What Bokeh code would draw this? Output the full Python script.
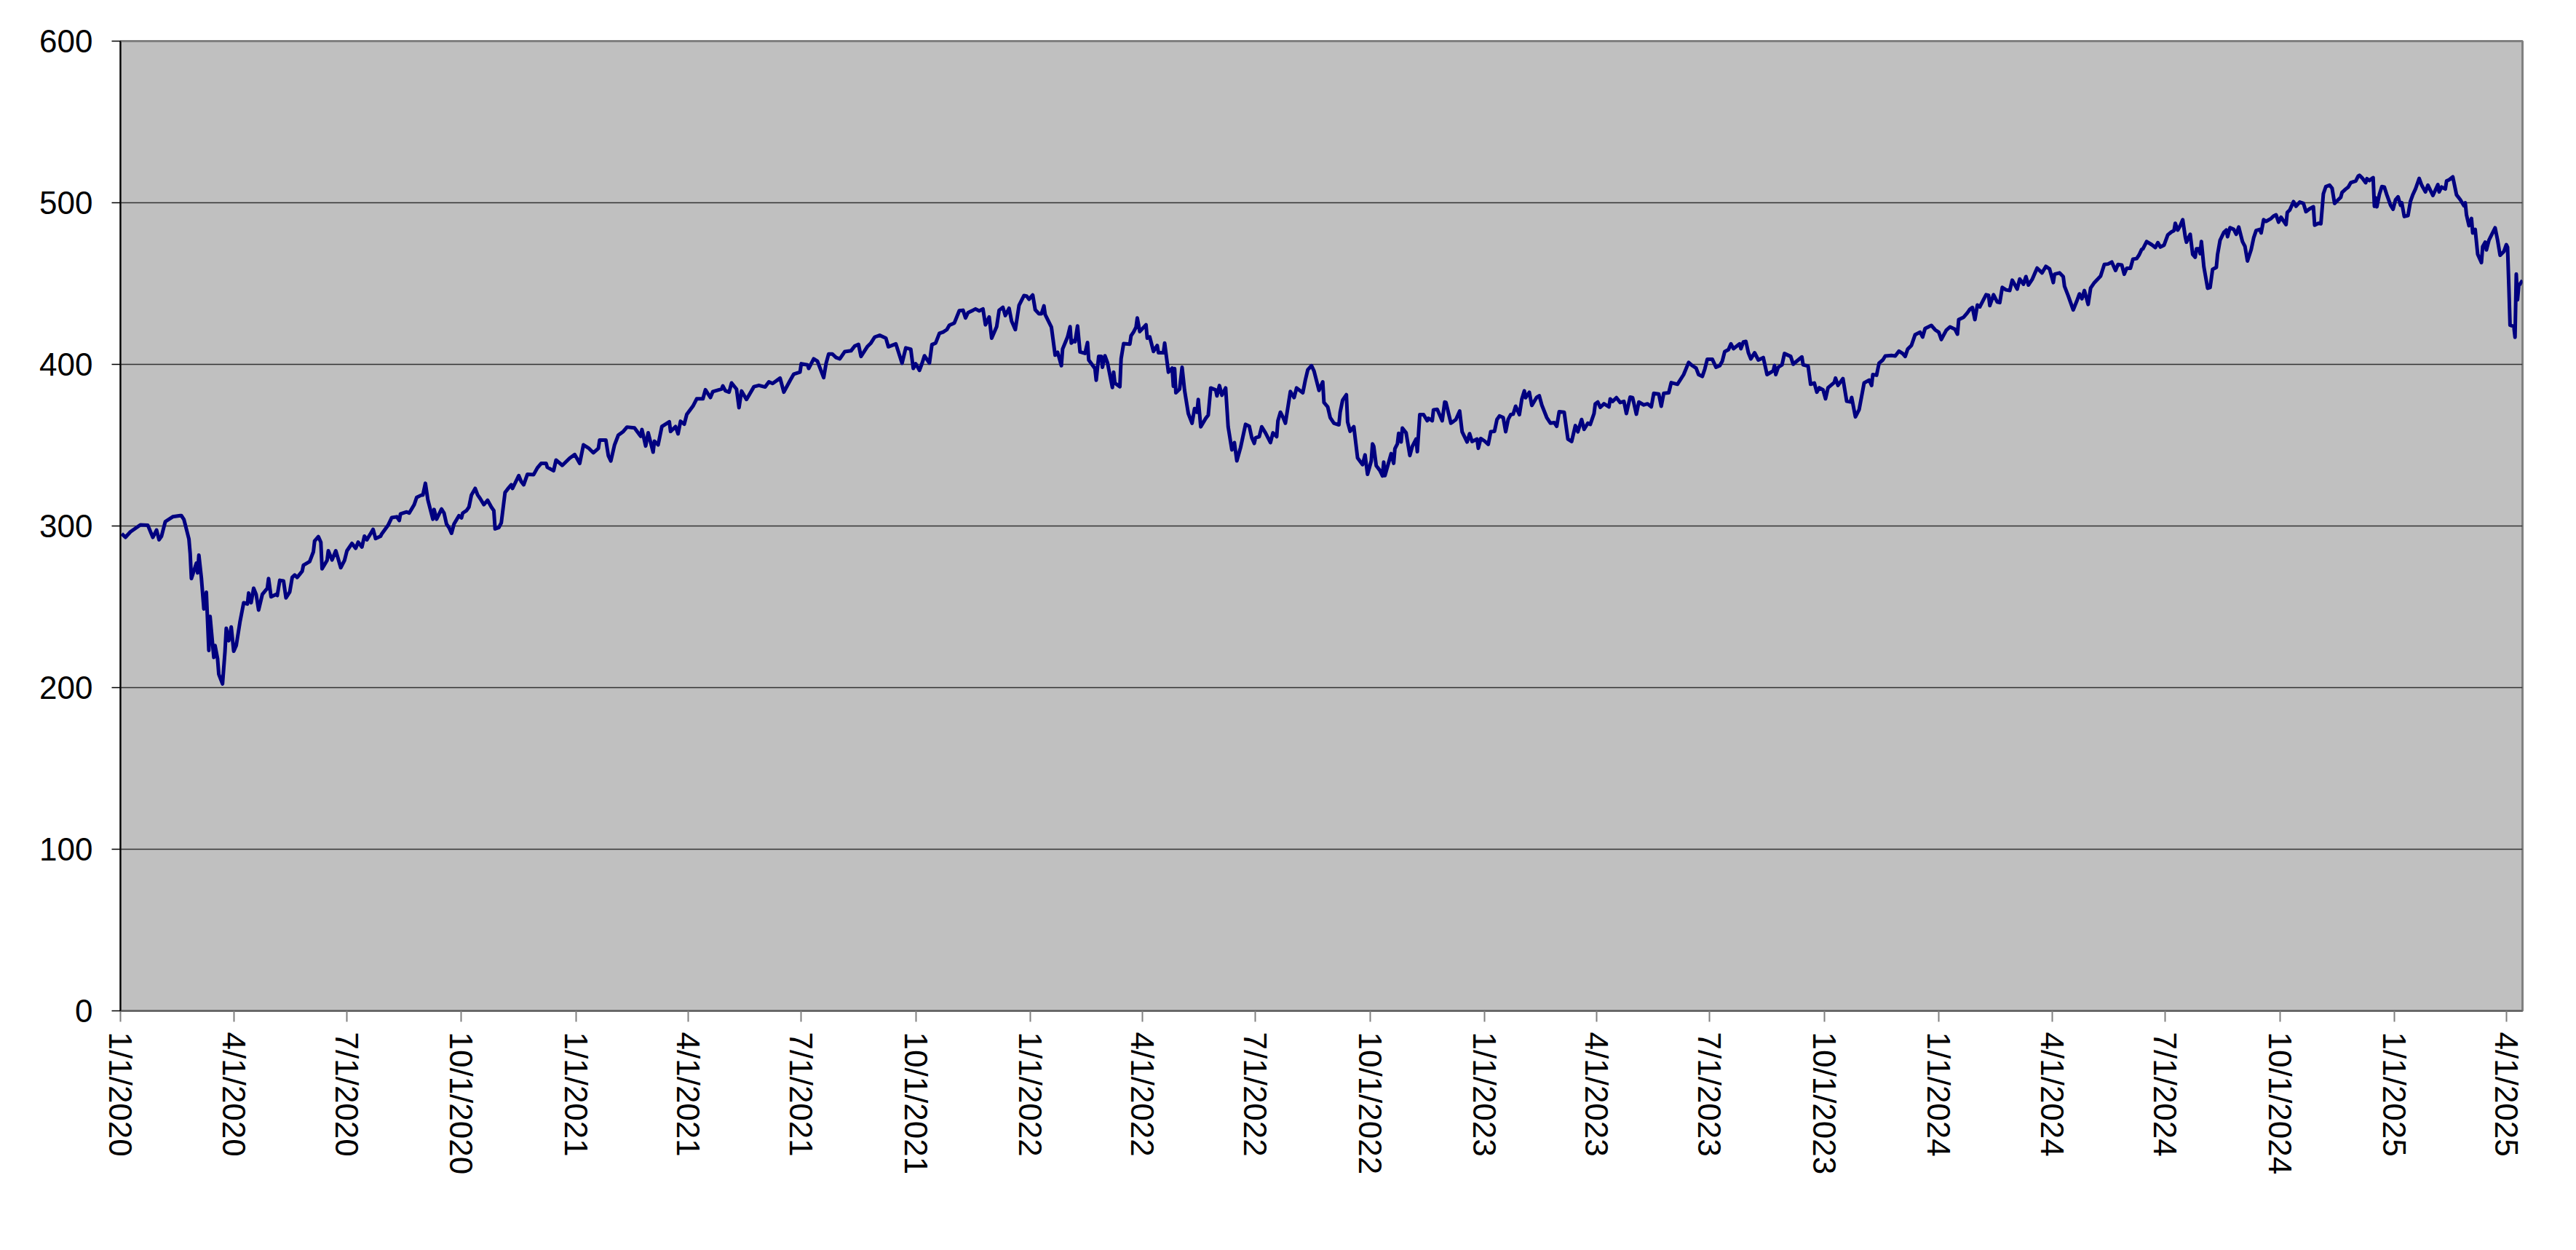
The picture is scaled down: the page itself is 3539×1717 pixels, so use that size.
import pandas as pd
from bokeh.plotting import figure
from bokeh.models import FixedTicker, CustomJSTickFormatter, Range1d
from bokeh.embed import file_html
from bokeh.resources import INLINE

# ---------------- data (day offsets from start_date, closing values) ----------------
start_date = "2020-01-01"
end_date = "2025-04-14"

days_a = [1, 4, 8, 16, 22, 26, 29, 31, 33, 36, 42, 48, 49, 51, 55, 56, 57, 61, 62, 63,
          65, 67, 69, 71, 72, 75, 76, 78, 79, 82, 84, 85, 87, 89, 91, 93, 96, 99, 102, 103,
          105, 107, 109, 111, 114, 118, 119, 121, 125, 126, 128, 131, 133, 136, 138, 140, 142, 146, 147, 152,
          155, 156, 159, 161, 162, 166, 167, 170, 173, 175, 177, 180, 182, 186, 189, 191, 194, 196, 198, 203,
          205, 209, 210, 215, 218, 222, 224, 225, 230, 232, 236, 238, 242, 243, 245, 247, 251, 252, 254, 258,
          260, 262, 264, 266, 268, 272, 274, 275, 278, 280, 282, 285, 287, 289, 292, 295, 298, 300, 301, 304,
          306, 309, 312, 314, 315, 320, 322, 324, 327]
vals_a = [295.2, 293, 296.4, 300.7, 300.4, 293, 297.5, 291.5, 293.7, 302.7, 305.7, 306.4, 306.4, 304, 292, 283, 267.5, 277, 271, 282,
          268, 248.7, 259, 223, 244, 218.7, 226, 218, 208.3, 202.3, 222.5, 236.7, 229, 237.5, 222.5, 226, 240.5, 252.5, 251.7, 258.5,
          252.5, 261.5, 257.7, 248, 257.7, 261.5, 267.5, 256.2, 257.7, 257, 266.4, 266, 255.5, 259.2, 268.2, 269.7, 268.2, 272, 275.7, 278,
          284, 290.7, 293.4, 290, 273.5, 278.7, 284.7, 279, 284.7, 279.5, 274.2, 278.7, 284.7, 289.2, 286.2, 290, 287, 293.7, 291.5, 297.9,
          292.2, 293.7, 295.2, 300.4, 305.2, 305.7, 303.4, 307.5, 308.7, 308, 313.2, 317.7, 319.2, 319.2, 326.4, 316.2, 304.2, 310.2, 304.2, 310.5,
          308, 301.2, 299, 295.5, 301.2, 306.4, 305, 308, 309.5, 311.7, 319.2, 323.2, 319.2, 317, 313.2, 315.9, 311.7, 309.5, 298.2, 299,
          302, 320.7, 323.7, 325.5, 323.2, 331.2, 327.5, 325.5, 332]

days_b = [332, 335, 338, 342, 343, 348, 350, 355, 361, 365, 369, 372, 376, 380, 384, 385, 390, 392, 394, 397,
          400, 404, 407, 413, 418, 419, 422, 424, 428, 429, 432, 435, 441, 442, 446, 448, 450, 453, 455, 460,
          463, 468, 470, 474, 476, 483, 484, 486, 489, 491, 495, 497, 499, 503, 509, 513, 518, 521, 524, 530,
          533, 538, 541, 546, 547, 552, 553, 557, 560, 565, 567, 569, 572, 575, 578, 582, 587, 590, 593, 595,
          600, 603, 606, 610, 615, 617, 623, 628, 631, 635, 637, 639, 642]
vals_b = [331.8, 336, 338.7, 338.7, 336.3, 334.2, 340.8, 337.5, 342, 344.2, 338.7, 350.2, 348.3, 345.3, 348, 353.2, 353.2, 343.5, 340.2, 350.2,
          356.2, 358.5, 361.2, 360.7, 355.5, 359.7, 349.5, 357.7, 345.7, 352.5, 350.2, 361.5, 364.5, 358.5, 361.5, 357, 364.8, 363, 369, 374.2,
          378.7, 378.7, 384.3, 379.5, 383.2, 384.7, 386.7, 383.7, 382.8, 388.5, 384.7, 373.2, 383.5, 378.3, 386.2, 387, 386, 389.2, 388.2, 391.5,
          382.8, 390, 394, 395.2, 400.4, 399.7, 397.5, 403.4, 402, 391.8, 400.7, 406.4, 406.4, 404.2, 403.4, 407.9, 408.4, 411.4, 412.4, 404.9,
          410.9, 413.2, 416.9, 418, 416.2, 410.9, 412.7, 400.7, 410.2, 409.4, 397.5, 400.4, 396.3]

days_c = [644, 646, 650, 652, 655, 658, 661, 664, 666, 670, 674, 677, 679, 681, 685, 687, 690, 693, 695, 698,
          700, 704, 706, 709, 711, 714, 716, 719, 722, 726, 728, 730, 733, 735, 738, 740, 742, 743, 748, 751,
          753, 756, 757, 761, 763, 764, 766, 767, 769, 771, 775, 777, 778, 783, 784, 786, 788, 789, 791, 793,
          797, 798, 799, 803, 804, 806, 811, 812, 814, 816, 817, 819, 824, 825, 827, 830, 833, 834, 838, 839,
          842, 845, 846, 847, 848, 851, 853, 855, 858, 861, 863, 865, 866, 868, 872, 874, 876, 880, 881, 883,
          885, 888, 890, 893, 895, 897, 900, 904, 907, 909, 911, 912, 915, 917, 920, 924, 926, 929, 930, 932,
          934, 936, 940, 943, 945, 950, 952, 954, 957, 959, 963]
vals_c = [400.5, 405.3, 400.8, 412.2, 413.2, 419.2, 420, 421.5, 424.2, 425.6, 433.2, 433.5, 428.7, 432, 433.5, 434.3, 433.1, 434.3, 424.5, 429.3,
          416.2, 423.3, 433.5, 435.3, 430.2, 434.7, 426.8, 421.5, 436.5, 442.6, 442.3, 440.3, 442.9, 433.8, 431.3, 431.3, 436.2, 430.8, 423, 405.7,
          407.5, 399.2, 409.5, 417, 423.3, 413.2, 414.7, 414, 423.8, 407.7, 406.8, 413.5, 402.7, 397.4, 390.2, 405, 405, 398.2, 405.3, 401.2,
          385.7, 395.2, 388.4, 386.2, 403.5, 412.8, 412.5, 417.7, 420, 423, 428.7, 420.3, 424.5, 416.2, 417, 408, 411.7, 407.2, 407.2, 413.2,
          395.2, 397.7, 386.5, 397.4, 382.4, 384.7, 398.2, 383.9, 369.6, 363.6, 372.6, 370.4, 378.3, 361.4, 366.6, 368.6, 385.4, 384.2, 380.5, 386.9,
          380.9, 385.4, 361.4, 347.1, 351.6, 340.3, 348.6, 362.9, 361.7, 354.6, 351.1, 354.6, 355.3, 361.4, 357.6, 351.6, 357.6, 355.3, 365.1, 370.4,
          367.4, 363.6, 383.2, 379.4, 385.4, 382.4, 390.2, 396.7, 399.2, 395.9, 383.9]

days_d = [966, 967, 970, 972, 975, 979, 980, 982, 985, 986, 988, 991, 994, 998, 1000, 1002, 1005, 1006, 1007, 1009,
          1012, 1014, 1015, 1016, 1021, 1023, 1024, 1026, 1027, 1029, 1030, 1033, 1036, 1038, 1041, 1042, 1044, 1047, 1050, 1051,
          1054, 1055, 1058, 1062, 1064, 1065, 1069, 1071, 1073, 1076, 1078, 1082, 1084, 1086, 1090, 1091, 1093, 1096, 1099, 1101,
          1104, 1106, 1108, 1111, 1113, 1115, 1117, 1119, 1121, 1124, 1126, 1128, 1129, 1132, 1134, 1138, 1140, 1142, 1146, 1149,
          1152, 1154, 1156, 1160, 1163, 1166, 1169, 1171, 1174, 1176, 1179, 1181, 1184, 1185, 1187, 1189, 1192, 1196, 1197, 1199,
          1202, 1205, 1208, 1210, 1213, 1215, 1218, 1220, 1224, 1227, 1230, 1232, 1236, 1238, 1240, 1244, 1246, 1251, 1256, 1260,
          1263, 1266, 1268, 1271, 1273, 1275, 1279, 1282, 1285]
vals_d = [389.2, 376.4, 373.7, 367.1, 363.6, 362.6, 370.4, 377.9, 381.2, 364.4, 358.6, 361.4, 342.1, 338, 344, 332, 340.3, 350.8, 349.3, 337.3,
          334.3, 331, 339.5, 331.2, 344.8, 338.8, 347.8, 350.8, 357.3, 352, 360.6, 357.6, 343.6, 349.3, 353.8, 346, 368.9, 368.9, 365.1, 366.6,
          365.1, 371.9, 372.2, 365.1, 376.7, 376.4, 363.6, 364.7, 365.9, 371.1, 358.3, 352, 357.1, 352.3, 353.8, 348.1, 354.1, 352.6, 350.5, 358.3,
          358.6, 365.9, 368.1, 367.1, 358.3, 365.9, 368.9, 369.2, 374.1, 368.9, 378.6, 383.6, 379.4, 382.7, 374.6, 379.7, 380.6, 374.9, 367.1, 363.6,
          364, 361.7, 370.7, 370.4, 353.8, 352.3, 362.1, 358.3, 365.9, 359.8, 363.6, 362.9, 369.6, 375.6, 376.7, 373.4, 375.6, 373.7, 378.6, 377.1,
          379.4, 376.4, 377.1, 369.6, 379.7, 379.4, 369.2, 376.7, 374.9, 375.6, 373.7, 382.1, 381.7, 374.1, 382.1, 382.4, 388.7, 387.7, 393.7, 401.2,
          399.2, 397.7, 393.7, 392.5, 397.1, 403.2, 403.2, 398.2, 399.2]

days_e = [1287, 1289, 1292, 1294, 1296, 1301, 1302, 1304, 1306, 1308, 1310, 1313, 1316, 1320, 1323, 1328, 1329, 1330, 1332, 1335,
          1337, 1342, 1344, 1348, 1351, 1352, 1356, 1358, 1361, 1363, 1365, 1368, 1370, 1372, 1377, 1378, 1380, 1384, 1387, 1390,
          1391, 1394, 1397, 1401, 1405, 1407, 1408, 1411, 1413, 1416, 1418, 1423, 1426, 1429, 1432, 1434, 1436, 1439, 1442, 1446,
          1448, 1450, 1455, 1458, 1461, 1463, 1467, 1470, 1474, 1476, 1477, 1481, 1484, 1486, 1488, 1490, 1492, 1494, 1497, 1499,
          1501, 1502, 1505, 1508, 1510, 1512, 1515, 1518, 1520, 1524, 1526, 1529, 1531, 1533, 1536, 1540, 1544, 1547, 1550, 1553,
          1554, 1558, 1561, 1562, 1565, 1569, 1572, 1574, 1576, 1578, 1581, 1583, 1586, 1591, 1594, 1597, 1600, 1603, 1605, 1608]
vals_e = [401.9, 407.9, 409.1, 412.7, 409.7, 412.7, 409.7, 413.9, 414.2, 407.2, 403.4, 407.2, 402.7, 404.2, 393.7, 396, 399.3, 393.7, 398.2, 399.7,
          406.7, 404.9, 400.1, 402.7, 404.6, 399.7, 398.9, 387.7, 388.5, 382.8, 385.5, 384.3, 378.7, 385.5, 388.8, 391.5, 387, 391.2, 377.2, 376.8,
          379.5, 367.5, 372, 388.5, 390.3, 387, 393.7, 393.3, 400.7, 402.7, 405.2, 405.5, 405.2, 408.2, 406.7, 404.9, 409.4, 411.7, 418.4, 419.9,
          416.9, 422.2, 424.1, 421.4, 419.9, 415.4, 421.1, 423.2, 421.7, 418.7, 427.7, 429.2, 431.9, 434.1, 435.2, 427.7, 436.7, 435.6, 440.1, 443.1,
          442.7, 436.4, 443.1, 438.6, 438.2, 447.6, 446.1, 445.7, 452.1, 446.6, 452.8, 449.6, 454.3, 449.1, 452.5, 459.6, 456.6, 460.6, 459.1, 450.6,
          455.8, 456.6, 454.3, 448.4, 442.4, 433.7, 439.4, 443.6, 440.6, 445.7, 437.1, 447.2, 450.6, 454.6, 461.8, 462.1, 463.3, 458.1, 461.8, 461.5]

days_f = [1610, 1612, 1615, 1617, 1620, 1622, 1624, 1625, 1628, 1632, 1635, 1637, 1639, 1642, 1645, 1648, 1650, 1651, 1653, 1655,
          1657, 1659, 1660, 1663, 1665, 1667, 1668, 1670, 1671, 1672, 1674, 1677, 1679, 1681, 1684, 1685, 1687, 1690, 1692, 1693,
          1695, 1698, 1700, 1702, 1705, 1707, 1709, 1712, 1714, 1716, 1719, 1720, 1722, 1724, 1728, 1730, 1732, 1734, 1736, 1740,
          1741, 1743, 1746, 1748, 1751, 1754, 1756, 1759, 1762, 1763, 1766, 1768, 1770, 1772, 1775, 1777, 1779, 1782, 1784, 1785,
          1788, 1790, 1792, 1796, 1798, 1799, 1801, 1804, 1805, 1807, 1810, 1811, 1812, 1813, 1815, 1817, 1819, 1821, 1824, 1826,
          1828, 1830, 1832, 1833, 1835, 1838, 1840, 1842, 1844, 1847, 1849, 1852, 1854, 1858, 1862, 1863, 1865, 1868, 1869, 1871,
          1874, 1877, 1880, 1883, 1884, 1885, 1887, 1889, 1890, 1892, 1894, 1897, 1898, 1900, 1901, 1903, 1905, 1908, 1910, 1912,
          1915, 1917, 1918, 1919, 1920, 1923, 1924, 1925, 1926, 1927, 1930]
vals_f = [455.8, 459.5, 459.5, 465.1, 465.5, 467.8, 471.1, 471.5, 476, 474.1, 472.3, 475.3, 472.6, 473.8, 480.1, 482, 482.8, 487.3, 483.1, 485.8,
          489.5, 479, 475.6, 480.5, 468.1, 466.3, 471.5, 471.5, 468.5, 476, 460.3, 447.1, 447.6, 458.8, 460, 468.1, 476.8, 481.6, 483.1, 479,
          484.6, 483.5, 480.5, 485, 476, 473, 464, 471.1, 478.3, 482.8, 483.5, 481.3, 489.5, 488.5, 490.3, 491.8, 492.5, 488, 491, 486.5,
          494, 495.5, 500.7, 497.8, 500.4, 499.6, 494.5, 496.3, 497.5, 486.1, 487.3, 487, 505.5, 510, 510.9, 509, 499.6, 501.9, 503.4, 506.4,
          508.5, 509.7, 512.4, 513.5, 516.5, 517, 515.5, 512.4, 514.9, 513.8, 515.5, 497.8, 503, 497.5, 505.2, 510, 509.7, 504.9, 498.5, 496,
          501.9, 503.7, 498.5, 500, 491.5, 492.1, 501, 505.2, 508.5, 515, 510.9, 506.7, 510.9, 504.5, 511.2, 506.7, 509.7, 508.5, 513.5, 514.2,
          516, 504.9, 501.9, 498.1, 500, 492.5, 485.8, 490.3, 481.3, 483.5, 468.1, 463, 472.9, 475.6, 470.8, 476.8, 479.9, 484.5, 476.8, 467.5,
          469.8, 474.1, 472.5, 449, 424.3, 423.5, 416.8, 455.8, 440, 448.6, 452]

tick_dates = ["2020-01-01", "2020-04-01", "2020-07-01", "2020-10-01",
              "2021-01-01", "2021-04-01", "2021-07-01", "2021-10-01",
              "2022-01-01", "2022-04-01", "2022-07-01", "2022-10-01",
              "2023-01-01", "2023-04-01", "2023-07-01", "2023-10-01",
              "2024-01-01", "2024-04-01", "2024-07-01", "2024-10-01",
              "2025-01-01", "2025-04-01"]
y_ticks = [0, 100, 200, 300, 400, 500, 600]

# ---------------- assemble ----------------
day_lists = [days_a, days_b, days_c, days_d, days_e, days_f]
val_lists = [vals_a, vals_b, vals_c, vals_d, vals_e, vals_f]
days, vals = [], []
for dl, vl in zip(day_lists, val_lists):
    n = min(len(dl), len(vl))
    days += dl[:n]
    vals += vl[:n]

base = pd.Timestamp(start_date)
dates = [base + pd.Timedelta(days=int(d)) for d in days]

FONT = "Liberation Sans"

p = figure(width=3520, height=1700, x_axis_type="datetime",
           x_range=Range1d(base, pd.Timestamp(end_date)),
           y_range=Range1d(0, 600),
           output_backend="svg", toolbar_location=None,
           min_border_left=165, min_border_right=55,
           min_border_top=56, min_border_bottom=312)

p.background_fill_color = "#C0C0C0"
p.border_fill_color = "white"
p.outline_line_color = "#808080"
p.outline_line_width = 3

p.xgrid.grid_line_color = None
p.ygrid.grid_line_color = "#333333"
p.ygrid.grid_line_width = 1.5

p.yaxis.ticker = FixedTicker(ticks=y_ticks)
p.yaxis.axis_line_color = "#000000"
p.yaxis.axis_line_width = 2
p.yaxis.major_tick_line_color = "#000000"
p.yaxis.major_tick_line_width = 1.5
p.yaxis.major_tick_out = 12
p.yaxis.major_tick_in = 0
p.yaxis.minor_tick_line_color = None
p.yaxis.major_label_standoff = 26
p.yaxis.major_label_text_font = FONT
p.yaxis.major_label_text_font_size = "44px"
p.yaxis.major_label_text_color = "#000000"

tick_ms = [int(pd.Timestamp(d).value // 10**6) for d in tick_dates]
p.xaxis.ticker = FixedTicker(ticks=tick_ms)
p.xaxis.formatter = CustomJSTickFormatter(code="""
const d = new Date(tick);
return (d.getUTCMonth() + 1) + "/" + d.getUTCDate() + "/" + d.getUTCFullYear();
""")
p.xaxis.major_label_orientation = "vertical"
p.xaxis.axis_line_color = "#606060"
p.xaxis.axis_line_width = 2
p.xaxis.major_tick_line_color = "#808080"
p.xaxis.major_tick_line_width = 2
p.xaxis.major_tick_out = 15
p.xaxis.major_tick_in = 0
p.xaxis.minor_tick_line_color = None
p.xaxis.major_label_standoff = 14
p.xaxis.major_label_text_font = FONT
p.xaxis.major_label_text_font_size = "44px"
p.xaxis.major_label_text_color = "#000000"

p.line(dates, vals, line_color="#000080", line_width=5, line_join="round")

open("out.html", "w").write(file_html(p, INLINE))
